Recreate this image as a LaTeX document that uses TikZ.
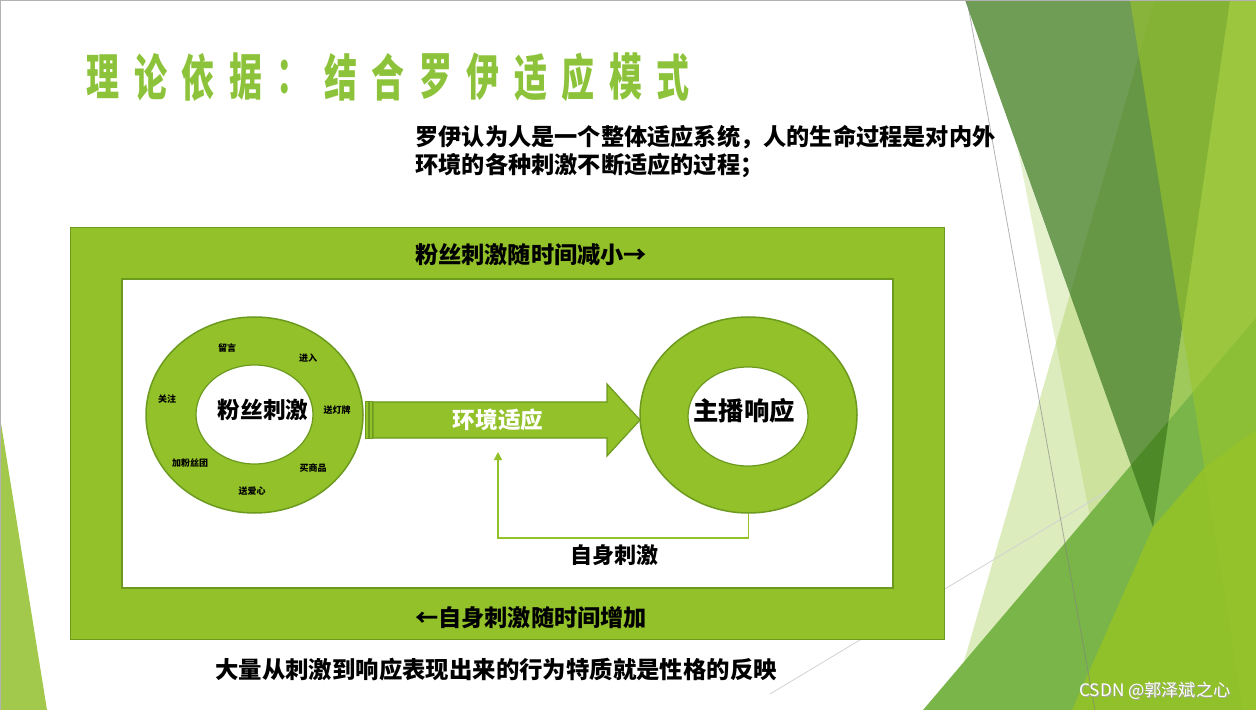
\documentclass[tikz,border=0pt]{standalone}
\usepackage{fontspec}
\setmainfont{Noto Sans CJK SC}
\usetikzlibrary{shapes.geometric,arrows.meta}
\definecolor{leaf}{HTML}{92C12A}
\definecolor{leafdark}{HTML}{6C9A1F}
\definecolor{titlegreen}{HTML}{8DC33A}
\definecolor{facet}{HTML}{9BC63E}
\definecolor{facetdark}{HTML}{3F7C1C}
\definecolor{facetmid}{HTML}{98C42A}
\definecolor{facetstrip}{HTML}{A0C95C}
\definecolor{facetlow}{HTML}{7AB54A}
\definecolor{facetyellow}{HTML}{90C02A}
\definecolor{facetleft}{HTML}{A2C84C}
\begin{document}
\begin{tikzpicture}[x=0.5pt,y=-0.5pt,
  ring/.style={ellipse,draw=leafdark,fill=leaf,line width=0.75pt,inner sep=0pt},
  hole/.style={ellipse,draw=leafdark,fill=white,line width=0.6pt,inner sep=0pt},
  tag/.style={font=\fontsize{4.5}{5}\selectfont\bfseries,inner sep=0pt},
  word/.style={font=\fontsize{11.6}{14}\selectfont\bfseries,inner sep=0pt},
  titlechar/.style={font=\fontsize{25}{28}\selectfont\bfseries,text=titlegreen,xscale=0.66,inner sep=0pt},
  feedback/.style={draw=leaf,line width=0.75pt,-{Triangle[length=4pt,width=4pt]}}]
  \useasboundingbox (0,0) rectangle (1256,710);

  % facet background
  \fill[facetleft] (0,417) -- (0,710) -- (47,710) -- cycle;
  \fill[facet,opacity=0.34] (1155,0) -- (950,710) -- (1256,710) -- (1256,0) -- cycle;
  \fill[facet,opacity=0.26] (1018,150) -- (1153,527) -- (1128,710) -- cycle;
  \draw[gray!35,line width=0.4pt] (770,694) -- (1256,402);
  \fill[facetstrip] (1230,0) -- (1256,0) -- (1256,710) -- (1072,710) -- (1153,527) -- cycle;
  \fill[facetlow] (923,710) -- (1256,318) -- (1256,710) -- cycle;
  \fill[facetyellow] (1153,527) -- (1205,467) -- (1256,430) -- (1256,710) -- (1072,710) -- cycle;
  \fill[facetdark,opacity=0.75] (965,0) -- (1230,0) -- (1153,527) -- cycle;
  \fill[facetmid,opacity=0.6] (1130,0) -- (1256,0) -- (1256,710) -- (1243,710) -- cycle;
  \draw[gray,opacity=0.6,line width=0.4pt] (967,0) -- (1095,710);
  \draw[gray!60,line width=0.5pt] (0.5,710) -- (0.5,0.5) -- (1256,0.5);

  % title and intro
  \foreach \ch [count=\i from 0] in {理,论,依,据,：,结,合,罗,伊,适,应,模,式}
    \node[titlechar] (title\i) at (103+47.5*\i,77) {\ch};
  \node[anchor=base west,align=left,font=\fontsize{11.6}{14}\selectfont\bfseries,inner sep=0pt] (intro) at (415,174)
    {罗伊认为人是一个整体适应系统，人的生命过程是对内外\\环境的各种刺激不断适应的过程；};

  % frame
  \node[draw=leafdark,fill=leaf,line width=0.75pt,minimum width=437pt,minimum height=206pt,inner sep=0pt] (outer) at (507.5,433.5) {};
  \node[draw=leafdark,fill=white,line width=0.75pt,minimum width=385.5pt,minimum height=154.5pt,inner sep=0pt] (inner) at (507.5,433.5) {};
  \node[word] (fandown) at (531,255) {粉丝刺激随时间减小→};
  \node[word] (selfup) at (531,618) {←自身刺激随时间增加};

  % fan ring
  \node[ring,minimum width=108.5pt,minimum height=98pt] (fanring) at (254.5,415) {};
  \node[hole,minimum width=58.5pt,minimum height=49.5pt] (fanhole) at (254.5,414.5) {};
  \node[word,font=\fontsize{11.3}{14}\selectfont\bfseries] (fan) at (263,410) {粉丝刺激};
  \node[tag] (liuyan) at (227,348) {留言};
  \node[tag] (jinru) at (308,358) {进入};
  \node[tag] (dengpai) at (337,410) {送灯牌};
  \node[tag] (shangpin) at (313,468) {买商品};
  \node[tag] (aixin) at (252,491) {送爱心};
  \node[tag] (fensituan) at (190,463) {加粉丝团};
  \node[tag] (guanzhu) at (167,399) {关注};

  % host ring
  \node[ring,minimum width=108.5pt,minimum height=98pt] (hostring) at (748.5,415) {};
  \node[hole,minimum width=60pt,minimum height=49.5pt] (hosthole) at (748,416.5) {};
  \node[word,font=\fontsize{12.7}{14}\selectfont\bfseries] (host) at (744,411) {主播响应};

  % adaptation arrow
  \fill[leaf,draw=leafdark,line width=0.5pt] (365,402) rectangle (368,438);
  \fill[leaf,draw=leafdark,line width=0.5pt] (369.5,402) rectangle (372,438);
  \filldraw[fill=leaf,draw=leafdark,line width=0.6pt] (373,402) -- (607,402) -- (607,384) -- (640,420)
    -- (607,456) -- (607,438) -- (373,438) -- cycle;
  \node[word,font=\fontsize{11.3}{14}\selectfont\bfseries,text=white] (adapt) at (498,420) {环境适应};

  % self stimulus loop
  \coordinate (loopend) at (498,452);
  \draw[feedback] (hostring.south) -- ++(0,24) -| (loopend);
  \node[word,font=\fontsize{11}{14}\selectfont\bfseries] (self) at (614,555) {自身刺激};

  \node[word,font=\fontsize{11.7}{14}\selectfont\bfseries] (summary) at (496,670)
    {大量从刺激到响应表现出来的行为特质就是性格的反映};

  % watermark
  \node[font=\fontsize{8.6}{10}\selectfont,text=gray!70,inner sep=0pt] (markshadow) at (1155.8,691.8) {CSDN @郭泽斌之心};
  \node[font=\fontsize{8.6}{10}\selectfont,text=white,inner sep=0pt] (mark) at (1155,691) {CSDN @郭泽斌之心};
\end{tikzpicture}
\end{document}
